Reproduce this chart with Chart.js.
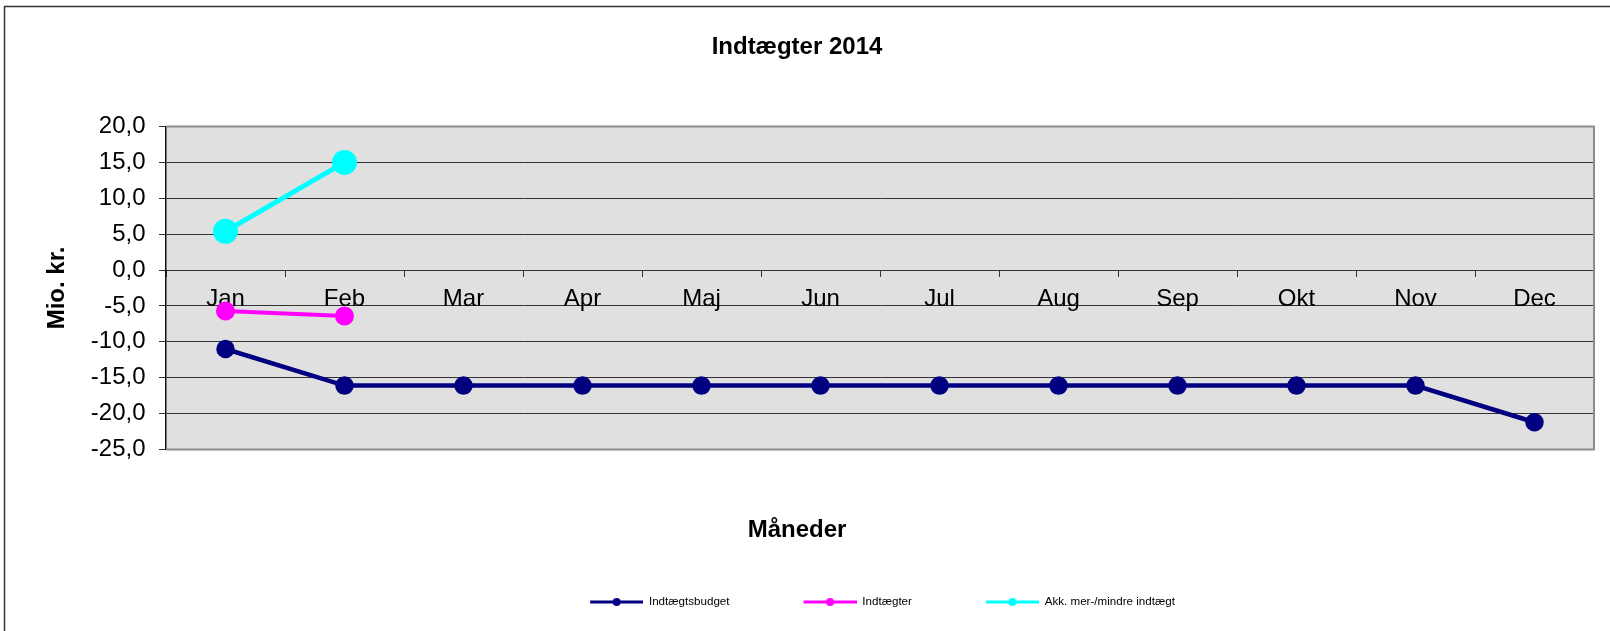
<!DOCTYPE html>
<html>
<head>
<meta charset="utf-8">
<title>Indtægter 2014</title>
<script src="https://cdn.jsdelivr.net/npm/chart.js@4/dist/chart.umd.min.js"></script>
<style>
    html, body { margin: 0; padding: 0; background: #fff; }
    #wrap { width: 1610px; height: 631px; }
</style>
</head>
<body>
<div id="wrap"><canvas id="graficoIndtaegter" width="1610" height="631"></canvas></div>
<script>
// Data
var maaneder = ["Jan", "Feb", "Mar", "Apr", "Maj", "Jun", "Jul", "Aug", "Sep", "Okt", "Nov", "Dec"];
var indtaegtsbudget = [-11.0, -16.1, -16.1, -16.1, -16.1, -16.1, -16.1, -16.1, -16.1, -16.1, -16.1, -21.2];
var indtaegter = [-5.7, -6.4, null, null, null, null, null, null, null, null, null, null];
var akkMerMindre = [5.4, 15.0, null, null, null, null, null, null, null, null, null, null];
var yTicks = [20, 15, 10, 5, 0, -5, -10, -15, -20, -25];

var FONT = 'Arial, "Liberation Sans", sans-serif';
Chart.defaults.font.family = FONT;
Chart.defaults.color = '#000';

// lille billede til legenden: streg med prik
function legendeIkon(farve) {
    var c = document.createElement('canvas');
    c.width = 58; c.height = 10;
    var g = c.getContext('2d');
    g.strokeStyle = farve;
    g.lineWidth = 3;
    g.beginPath();
    g.moveTo(5, 5); g.lineTo(58, 5);
    g.stroke();
    g.fillStyle = farve;
    g.beginPath();
    g.arc(31.5, 5, 4, 0, Math.PI * 2);
    g.fill();
    return c;
}

// baggrund, ramme og plotområde
var rammePlugin = {
    id: 'ramme',
    beforeDraw: function (chart) {
        var ctx = chart.ctx, a = chart.chartArea;
        ctx.save();
        ctx.fillStyle = '#fff';
        ctx.fillRect(0, 0, chart.width, chart.height);
        ctx.strokeStyle = '#333';
        ctx.lineWidth = 1.5;
        ctx.strokeRect(4.5, 6.5, chart.width + 20, chart.height + 20);
        ctx.fillStyle = '#e0e0e0';
        ctx.fillRect(a.left, a.top, a.right - a.left, a.bottom - a.top);
        ctx.restore();
    },
    beforeDatasetsDraw: function (chart) {
        var ctx = chart.ctx, a = chart.chartArea;
        ctx.save();
        ctx.strokeStyle = '#8c8c8c';
        ctx.lineWidth = 2;
        ctx.beginPath();
        ctx.moveTo(a.left, a.top); ctx.lineTo(a.right, a.top);
        ctx.lineTo(a.right, a.bottom); ctx.lineTo(a.left, a.bottom);
        ctx.stroke();
        ctx.restore();
    }
};

var ikoner = [legendeIkon('#000080'), legendeIkon('#ff00ff'), legendeIkon('#00ffff')];

new Chart(document.getElementById("graficoIndtaegter"), {
    type: 'line',
    data: {
        labels: maaneder,
        datasets: [{
            label: "Indtægtsbudget",
            data: indtaegtsbudget,
            borderColor: '#000080',
            backgroundColor: '#000080',
            borderWidth: 4.5,
            pointRadius: 7,
            pointHoverRadius: 7,
            fill: false
        }, {
            label: "Indtægter",
            data: indtaegter,
            borderColor: '#ff00ff',
            backgroundColor: '#ff00ff',
            borderWidth: 4,
            pointRadius: 7.5,
            pointHoverRadius: 7.5,
            fill: false
        }, {
            label: "Akk. mer-/mindre indtægt",
            data: akkMerMindre,
            borderColor: '#00ffff',
            backgroundColor: '#00ffff',
            borderWidth: 5,
            pointRadius: 10,
            pointHoverRadius: 10,
            fill: false
        }]
    },
    options: {
        responsive: false,
        animation: false,
        layout: { padding: { top: 0, left: 0, right: 16, bottom: 13.2 } },
        scales: {
            x: {
                type: 'category',
                position: { y: 0 },
                offset: true,
                grid: { display: true, offset: true, drawOnChartArea: false, tickLength: 6, color: '#333' },
                border: { display: true, color: '#333', width: 1 },
                ticks: { font: { size: 24 }, padding: 9, maxRotation: 0, autoSkip: false, color: '#000' }
            },
            y: {
                min: -25,
                max: 20,
                afterBuildTicks: function (scale) {
                    scale.ticks = yTicks.map(function (v) { return { value: v }; });
                },
                afterFit: function (scale) { scale.width = 166; },
                grid: {
                    color: function (c) {
                        return (c.tick && (c.tick.value === 20 || c.tick.value === -25)) ? 'rgba(0,0,0,0)' : '#333';
                    },
                    tickColor: '#333',
                    tickLength: 7,
                    lineWidth: 1
                },
                border: { display: true, color: '#111', width: 1.5 },
                ticks: {
                    font: { size: 24 },
                    padding: 13.5,
                    color: '#000',
                    callback: function (v) { return v.toFixed(1).replace('.', ','); }
                },
                title: {
                    display: true,
                    text: 'Mio. kr.',
                    font: { size: 24, weight: 'bold' },
                    color: '#000',
                    padding: { top: 42.5, bottom: 0 }
                }
            }
        },
        plugins: {
            title: {
                display: true,
                text: 'Indtægter 2014',
                font: { size: 24, weight: 'bold' },
                color: '#000',
                padding: { top: 33, bottom: 64.7 }
            },
            subtitle: {
                display: true,
                text: 'Måneder',
                position: 'bottom',
                weight: 500,
                font: { size: 24, weight: 'bold' },
                color: '#000',
                padding: { top: 66.6, bottom: -17.7 }
            },
            legend: {
                position: 'bottom',
                weight: 1000,
                fullSize: false,
                labels: {
                    usePointStyle: true,
                    pointStyleWidth: 58,
                    padding: 69,
                    font: { size: 11.6 },
                    color: '#000',
                    generateLabels: function (chart) {
                        var items = Chart.defaults.plugins.legend.labels.generateLabels(chart);
                        items.forEach(function (it, i) { it.pointStyle = ikoner[i]; });
                        return items;
                    }
                }
            },
            tooltip: { enabled: false }
        }
    },
    plugins: [rammePlugin]
});
</script>
</body>
</html>
